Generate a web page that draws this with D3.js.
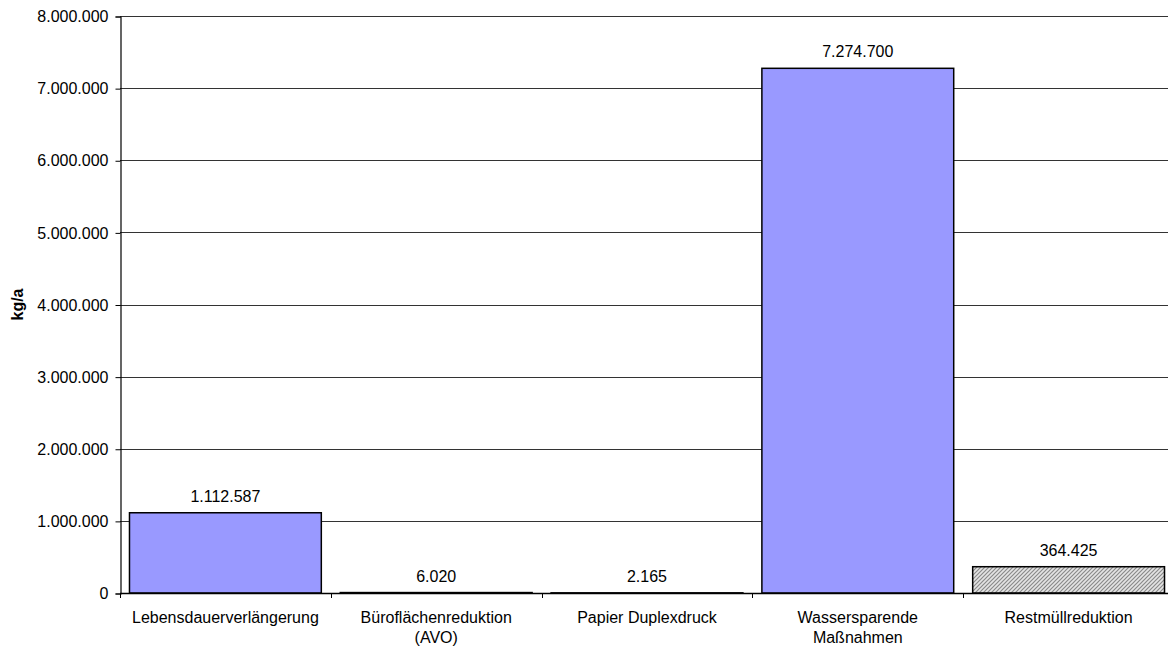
<!DOCTYPE html>
<html>
<head>
<meta charset="utf-8">
<script src="https://cdn.jsdelivr.net/npm/d3@7"></script>
<style>
  body { margin: 0; background: #fff; }
  svg { display: block; font-family: "Liberation Sans", Arial, sans-serif; }
</style>
</head>
<body>
<svg width="1168" height="648"></svg>
<script>
// categories (line breaks as in the original labels)
var categories = [
  ["Lebensdauerverlängerung"],
  ["Büroflächenreduktion", "(AVO)"],
  ["Papier Duplexdruck"],
  ["Wassersparende", "Maßnahmen"],
  ["Restmüllreduktion"]
];
var values = [1112587, 6020, 2165, 7274700, 364425];
var hatched = [false, false, false, false, true];
var yTicks = [0, 1000000, 2000000, 3000000, 4000000, 5000000, 6000000, 7000000, 8000000];
var yTitle = "kg/a";

var de = d3.formatLocale({decimal: ",", thousands: ".", grouping: [3], currency: ["", "€"]});
var fmt = de.format(",d");

var svg = d3.select("svg");
// note: "top" is taken by window.top, so plot edges get their own names
var plotL = 120, plotR = 1174, plotT = 16, plotB = 593;

var x = d3.scaleBand()
  .domain(d3.range(values.length))
  .range([plotL, plotR])
  .paddingInner(0.09)
  .paddingOuter(0.045);
var y = d3.scaleLinear().domain([0, 8000000]).range([plotB, plotT]);

// hatch pattern for the last bar
var pat = svg.append("defs").append("pattern")
  .attr("id", "hatch")
  .attr("patternUnits", "userSpaceOnUse")
  .attr("width", 4).attr("height", 4);
pat.append("rect").attr("width", 4).attr("height", 4).attr("fill", "#e4e4e4");
pat.append("path")
  .attr("d", "M-1,1 l2,-2 M0,4 l4,-4 M3,5 l2,-2")
  .attr("stroke", "#8a8a8a")
  .attr("stroke-width", 1.2);

// gridlines
svg.append("g").selectAll("line")
  .data(yTicks.slice(1))
  .join("line")
  .attr("x1", plotL).attr("x2", plotR)
  .attr("y1", function(d) { return Math.round(y(d)) + 0.5; })
  .attr("y2", function(d) { return Math.round(y(d)) + 0.5; })
  .attr("stroke", "#333")
  .attr("stroke-width", 1);

// y axis
var yAxis = svg.append("g")
  .attr("transform", "translate(" + (plotL + 0.5) + ",0.5)")
  .call(d3.axisLeft(y).tickValues(yTicks).tickFormat(fmt).tickSize(5).tickPadding(7));
yAxis.select(".domain").attr("stroke", "#000").attr("stroke-width", 1.2);
yAxis.selectAll(".tick line").attr("stroke", "#000");
yAxis.selectAll("text").attr("font-size", 16).attr("fill", "#000")
  .attr("font-family", "Liberation Sans, Arial, sans-serif");

svg.append("text")
  .attr("transform", "translate(23," + ((plotT + plotB) / 2) + ") rotate(-90)")
  .attr("text-anchor", "middle")
  .attr("font-size", 16)
  .attr("font-weight", "bold")
  .text(yTitle);

// bars
svg.append("g").selectAll("rect")
  .data(values)
  .join("rect")
  .attr("x", function(d, i) { return x(i); })
  .attr("width", x.bandwidth())
  .attr("y", function(d) { return y(d); })
  .attr("height", function(d) { return plotB - y(d); })
  .attr("fill", function(d, i) { return hatched[i] ? "url(#hatch)" : "#9999ff"; })
  .attr("stroke", "#000")
  .attr("stroke-width", 1.5);

// x axis line and category ticks
svg.append("line")
  .attr("x1", plotL).attr("x2", plotR)
  .attr("y1", plotB + 0.5).attr("y2", plotB + 0.5)
  .attr("stroke", "#000").attr("stroke-width", 1.5);
var step = x.step();
svg.append("g").selectAll("line")
  .data(d3.range(values.length + 1))
  .join("line")
  .attr("x1", function(i) { return Math.round(plotL + i * step) + 0.5; })
  .attr("x2", function(i) { return Math.round(plotL + i * step) + 0.5; })
  .attr("y1", plotB).attr("y2", plotB + 5)
  .attr("stroke", "#000");

// value labels
svg.append("g").selectAll("text")
  .data(values)
  .join("text")
  .attr("x", function(d, i) { return x(i) + x.bandwidth() / 2; })
  .attr("y", function(d) { return y(d) - 11; })
  .attr("text-anchor", "middle")
  .attr("font-size", 16)
  .text(function(d) { return fmt(d); });

// category labels
var cat = svg.append("g").selectAll("text")
  .data(categories)
  .join("text")
  .attr("text-anchor", "middle")
  .attr("font-size", 16)
  .attr("x", function(d, i) { return x(i) + x.bandwidth() / 2; })
  .attr("y", 623);
cat.selectAll("tspan")
  .data(function(d) { return d; })
  .join("tspan")
  .attr("x", function() { return d3.select(this.parentNode).attr("x"); })
  .attr("dy", function(d, j) { return j === 0 ? 0 : 20; })
  .text(function(d) { return d; });
</script>
</body>
</html>
